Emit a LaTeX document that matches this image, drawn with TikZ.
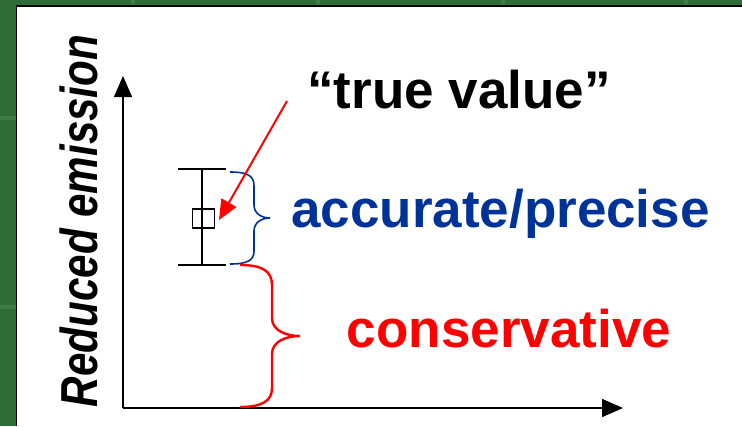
\documentclass[tikz,border=0pt]{standalone}
\usepackage{fontspec}
\setmainfont{Liberation Sans}
\usetikzlibrary{arrows.meta}
\definecolor{bggreen}{HTML}{2F6C36}
\definecolor{gridgreen}{HTML}{3F7D46}
\definecolor{darkblue}{HTML}{003399}
\definecolor{pptred}{HTML}{FF0000}
\tikzset{
  bigtext/.style={font=\bfseries\fontsize{53}{60}\selectfont, inner sep=0pt, anchor=base},
  axisline/.style={line width=1.5pt, -{Triangle[length=21pt,width=18pt]}},
  barline/.style={line width=1.3pt},
  bluebrace/.style={draw=darkblue, line width=1.6pt},
  redbrace/.style={draw=pptred, line width=2.4pt},
  gridmark/.style={draw=gridgreen, line width=4pt},
}
\begin{document}
\begin{tikzpicture}[x=1pt, y=-1pt]
\useasboundingbox (0,0) rectangle (742,426);
% background
\fill[bggreen] (0,0) rectangle (742,426);
\draw[gridmark] (133,0) -- (133,5);
\draw[gridmark] (318,0) -- (318,5);
\draw[gridmark] (503,0) -- (503,5);
\draw[gridmark] (686,0) -- (686,5);
\draw[gridmark] (0,118) -- (16,118);
\draw[gridmark] (0,307) -- (16,307);
\fill[white] (17,6) rectangle (742,426);
\draw[black, line width=1.6pt] (16.5,426) -- (16.5,5.8) -- (742,5.8);
% axes
\coordinate (origin) at (123,408);
\coordinate (ytip) at (123,76);
\coordinate (xtip) at (623,408);
\draw[axisline] (origin) -- (ytip);
\draw[axisline] (origin) -- (xtip);
% error bar
\coordinate (bartop) at (202,169);
\coordinate (barbot) at (202,265);
\draw[barline] (178,169) -- (226,169);
\draw[barline] (178,265) -- (226,265);
\draw[barline] (bartop) -- (barbot);
\node[draw, barline, fill=none, minimum width=22pt, minimum height=19pt, inner sep=0pt] (sq) at (203.5,218.5) {};
% braces
\draw[bluebrace] (230,172) .. controls (248,172) and (254,176) .. (254,186) -- (254,205)
  .. controls (254,213) and (261,218) .. (270,218)
  .. controls (261,218) and (254,223) .. (254,231) -- (254,251)
  .. controls (254,260) and (248,264) .. (230,264);
\draw[redbrace] (240,265) .. controls (262,265) and (272,271) .. (272,285) -- (272,318)
  .. controls (272,330) and (285,336) .. (300,336)
  .. controls (285,336) and (272,342) .. (272,354) -- (272,388)
  .. controls (272,401) and (262,407) .. (240,407);
% labels
\node[bigtext] (tv) at (459,108) {“true value”};
\node[bigtext, text=darkblue] (acc) at (500.5,227) {accurate/precise};
\node[bigtext, text=pptred] (cons) at (509,347) {conservative};
\node[bigtext, font=\bfseries\itshape\fontsize{52}{60}\selectfont, rotate=90] (ylab) at (97,221) {\scalebox{0.81}[1]{Reduced emission}};
% arrow
\coordinate (arrstart) at (287,101);
\coordinate (arrend) at (219,220);
\draw[pptred, line width=2pt, -{Triangle[length=20pt,width=17pt]}] (arrstart) -- (arrend);
\end{tikzpicture}
\end{document}
